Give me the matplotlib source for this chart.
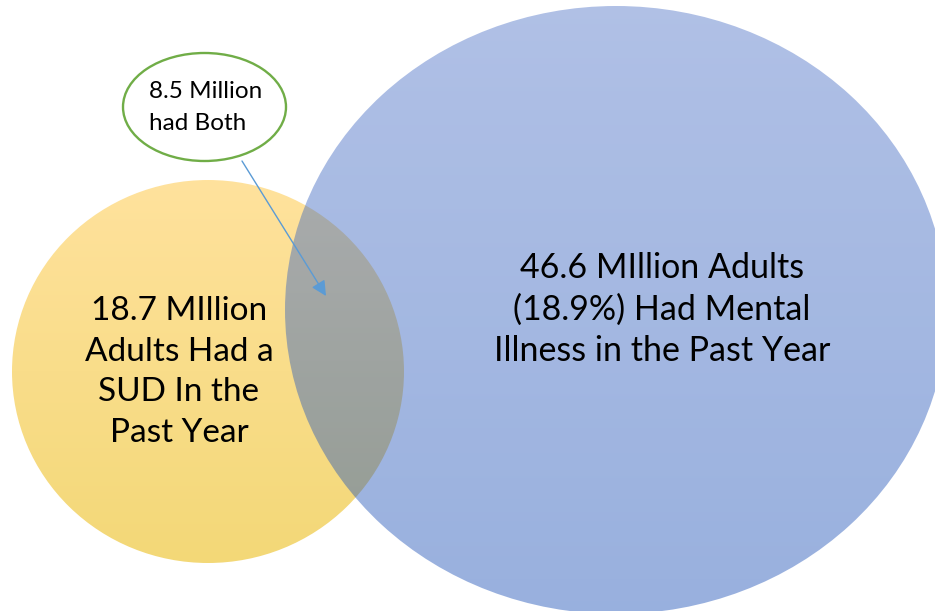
import numpy as np
import matplotlib
matplotlib.use("Agg")
import matplotlib.pyplot as plt
from matplotlib.patches import Ellipse, FancyArrowPatch
from matplotlib.colors import to_rgb

# ---- data / labels ----
sud_label = ["18.7 MIllion", "Adults Had a", "SUD In the", "Past Year"]
mi_label = ["46.6 MIllion Adults", "(18.9%) Had Mental", "Illness in the Past Year"]
both_label = ["8.5 Million", "had Both"]

W, H = 935, 611
fig = plt.figure(figsize=(W / 100, H / 100), dpi=100)
ax = fig.add_axes([0, 0, 1, 1])
ax.set_xlim(0, W)
ax.set_ylim(H, 0)
ax.axis("off")

FONT = ["Lato", "DejaVu Sans"]


def gradient_fill(patch, top, bottom, alpha=1.0, z=1):
    ax.add_patch(patch)
    patch.set_visible(False)
    t = np.array(to_rgb(top))
    b = np.array(to_rgb(bottom))
    ys = np.linspace(0, 1, 256)[:, None]
    rgb = t[None, :] * (1 - ys) + b[None, :] * ys
    img = np.zeros((256, 2, 4))
    img[:, :, :3] = rgb[:, None, :]
    img[:, :, 3] = alpha
    cx, cy = patch.center
    hw, hh = patch.width / 2, patch.height / 2
    im = ax.imshow(img, extent=[cx - hw, cx + hw, cy + hh, cy - hh],
                   aspect="auto", zorder=z, interpolation="bilinear")
    im.set_clip_path(patch)
    return im


# yellow SUD circle
yellow = Ellipse((208, 371.5), 392, 383)
gradient_fill(yellow, "#FFE29D", "#F3D877", alpha=1.0, z=1)

# blue mental illness ellipse (semi-transparent)
blue = Ellipse((616, 310), 662, 608)
gradient_fill(blue, "#4F73C7", "#1A4FB6", alpha=0.45, z=2)

# left text
for i, line in enumerate(sud_label):
    ax.text(179, 311 + i * 40.7, line, ha="center", va="center",
            fontsize=24, family=FONT, color="black", zorder=5)

# right text
for i, line in enumerate(mi_label):
    ax.text(662, 268 + i * 41.5, line, ha="center", va="center",
            fontsize=24.5, family=FONT, color="black", zorder=5)

# callout ellipse
callout = Ellipse((204.5, 107), 163, 108, facecolor="white",
                  edgecolor="#70AD47", linewidth=1.7, zorder=6)
ax.add_patch(callout)
for i, line in enumerate(both_label):
    ax.text(149, 92 + i * 31, line, ha="left", va="center",
            fontsize=17.5, family=FONT, color="black", zorder=7)

# arrow
arr = FancyArrowPatch((242, 161), (326, 296), arrowstyle="-|>,head_length=9,head_width=4.5",
                      color="#5B9BD5", linewidth=1.0, shrinkA=0, shrinkB=0,
                      mutation_scale=1, zorder=8)
ax.add_patch(arr)

fig.savefig("out.png", dpi=100)
